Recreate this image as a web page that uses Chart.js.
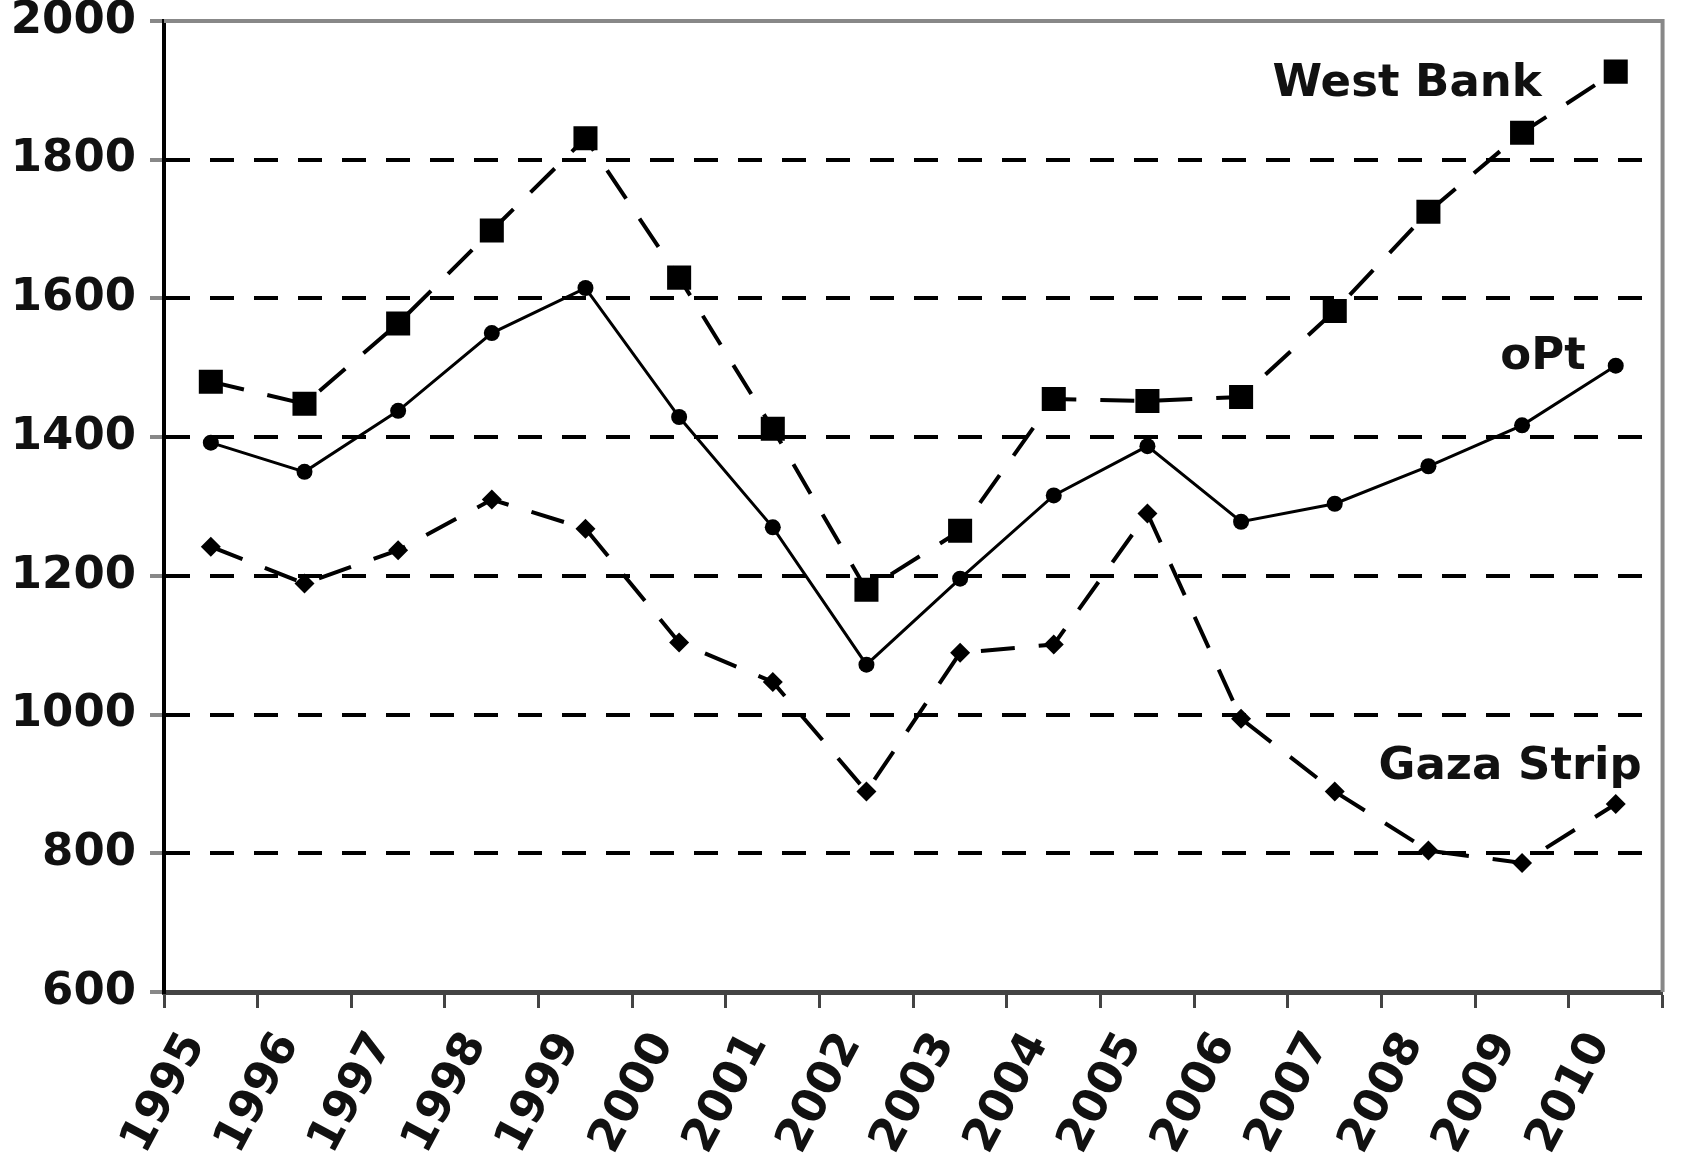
<!DOCTYPE html>
<html>
<head>
<meta charset="utf-8">
<script src="https://cdn.jsdelivr.net/npm/chart.js@4/dist/chart.umd.min.js"></script>
<style>
	html, body { margin: 0; padding: 0; background: #fff; }
	canvas { display: block; }
</style>
</head>
<body>
<canvas id="chart" width="1681" height="1167"></canvas>
<script>
const years = ['1995', '1996', '1997', '1998', '1999', '2000', '2001', '2002', '2003', '2004', '2005', '2006', '2007', '2008', '2009', '2010'];
const westBank = [1480, 1448, 1564, 1698, 1831, 1630, 1412, 1180, 1265, 1455, 1452, 1458, 1582, 1725, 1839, 1927];
const opt = [1392, 1350, 1438, 1550, 1615, 1429, 1270, 1072, 1196, 1316, 1387, 1278, 1304, 1358, 1417, 1503];
const gazaStrip = [1242, 1189, 1237, 1310, 1268, 1104, 1047, 889, 1089, 1101, 1290, 994, 889, 804, 786, 871];
const yTicks = [600, 800, 1000, 1200, 1400, 1600, 1800, 2000];

const fontFamily = '"DejaVu Sans", sans-serif';

// series names written next to the line ends
const seriesLabels = {
	id: 'seriesLabels',
	afterDatasetsDraw(chart) {
		const { ctx } = chart;
		ctx.save();
		ctx.font = 'bold 45px ' + fontFamily;
		ctx.fillStyle = '#111';
		ctx.textAlign = 'right';
		ctx.textBaseline = 'middle';
		const place = [
			{ i: 0, dx: -74, dy: 13 },
			{ i: 1, dx: -30, dy: -8 },
			{ i: 2, dx: 26, dy: -37 },
		];
		for (const p of place) {
			const meta = chart.getDatasetMeta(p.i);
			const last = meta.data[meta.data.length - 1];
			ctx.fillText(chart.data.datasets[p.i].label, last.x + p.dx, last.y + p.dy);
		}
		ctx.restore();
	},
};

// grey frame on top and right of the plot
const frame = {
	id: 'frame',
	beforeDatasetsDraw(chart) {
		const { ctx, chartArea: a } = chart;
		ctx.save();
		ctx.strokeStyle = '#888';
		ctx.lineWidth = 4;
		ctx.beginPath();
		ctx.moveTo(a.left, a.top);
		ctx.lineTo(a.right, a.top);
		ctx.lineTo(a.right, a.bottom);
		ctx.stroke();
		ctx.restore();
	},
};

const lineStyle = {
	borderColor: '#000',
	backgroundColor: '#000',
	pointBackgroundColor: '#000',
	pointBorderColor: '#000',
	pointBorderWidth: 0,
	fill: false,
	tension: 0,
};

new Chart('chart', {
	type: 'line',
	data: {
		labels: years,
		datasets: [
			{
				...lineStyle,
				label: 'West Bank',
				data: westBank,
				borderWidth: 4,
				borderDash: [34, 24],
				pointStyle: 'rect',
				pointRadius: 17,
			},
			{
				...lineStyle,
				label: 'oPt',
				data: opt,
				borderWidth: 3,
				pointStyle: 'circle',
				pointRadius: 8,
			},
			{
				...lineStyle,
				label: 'Gaza Strip',
				data: gazaStrip,
				borderWidth: 4,
				borderDash: [34, 24],
				pointStyle: 'rectRot',
				pointRadius: 10,
			},
		],
	},
	options: {
		responsive: false,
		animation: false,
		devicePixelRatio: 1,
		layout: { padding: { left: 0, top: 21, right: 3, bottom: 0 } },
		plugins: {
			legend: { display: false },
			tooltip: { enabled: false },
		},
		scales: {
			x: {
				offset: true,
				afterFit: (scale) => { scale.height = 175; },
				grid: {
					offset: true,
					drawOnChartArea: false,
					drawTicks: true,
					tickLength: 16,
					tickColor: '#444',
					tickWidth: 3,
				},
				border: { display: true, color: '#444', width: 5 },
				ticks: {
					color: '#111',
					font: { family: fontFamily, size: 46, weight: 'bold' },
					maxRotation: 62,
					minRotation: 62,
					padding: 16,
					labelOffset: -16,
					autoSkip: false,
				},
			},
			y: {
				min: 600,
				max: 2000,
				afterFit: (scale) => {
					scale.width = 164;
					scale.paddingTop = 0;
					scale.paddingBottom = 0;
				},
				afterBuildTicks: (scale) => { scale.ticks = yTicks.map((v) => ({ value: v })); },
				grid: {
					color: (c) => (c.tick && (c.tick.value === 600 || c.tick.value === 2000) ? 'rgba(0,0,0,0)' : '#000'),
					lineWidth: 4,
					tickLength: 14,
					tickColor: '#888',
					tickWidth: 4,
					tickBorderDash: [],
				},
				border: { display: true, color: '#000', width: 4, dash: [24, 20] },
				ticks: {
					color: '#111',
					font: { family: fontFamily, size: 45, weight: 'bold' },
					padding: 14,
					callback: (v) => String(v),
				},
			},
		},
	},
	plugins: [frame, seriesLabels],
});
</script>
</body>
</html>
